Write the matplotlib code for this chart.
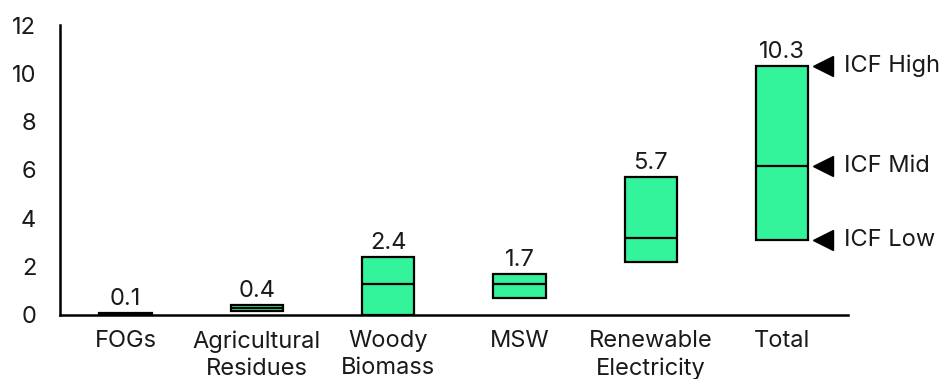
import matplotlib
matplotlib.use("Agg")
import matplotlib.pyplot as plt
import numpy as np

plt.rcParams['font.family'] = ['Inter', 'DejaVu Sans']

categories = ["FOGs", "Agricultural\nResidues", "Woody\nBiomass", "MSW",
              "Renewable\nElectricity", "Total"]
low = [0.0, 0.17, 0.0, 0.70, 2.2, 3.1]
mid = [0.05, 0.30, 1.3, 1.3, 3.2, 6.15]
high = [0.1, 0.4, 2.4, 1.7, 5.7, 10.3]
value_labels = ["0.1", "0.4", "2.4", "1.7", "5.7", "10.3"]
icf_labels = ["ICF High", "ICF Mid", "ICF Low"]

green = "#33F39B"
ink = "#1a1a1a"
fs = 17

fig = plt.figure(figsize=(9.43, 3.79), dpi=100)
ax = fig.add_axes([0.0636, 0.169, 0.8354, 0.765])

x = np.arange(len(categories))
width = 0.40
ax.bar(x, np.array(high) - np.array(low), bottom=low, width=width,
       color=green, edgecolor="black", linewidth=1.6, zorder=2)
ax.hlines(mid, x - width / 2, x + width / 2, colors="black",
          linewidth=1.6, zorder=3)

for xi, hi, lab in zip(x, high, value_labels):
    ax.text(xi, hi + 0.12, lab, ha="center", va="bottom",
            fontsize=fs, color=ink)

# Markers for the total range levels
t = len(categories) - 1
for yv, lab in zip([high[t], mid[t], low[t]], icf_labels):
    ax.plot(t + 0.31, yv, marker="<", markersize=15, color="black",
            clip_on=False, zorder=4)
    ax.text(t + 0.47, yv, lab, ha="left", va="center",
            fontsize=fs, color=ink, clip_on=False)

ax.set_xlim(-0.5, 5.5)
ax.set_ylim(0, 12)
ax.set_yticks(range(0, 13, 2))
ax.set_xticks(x)
ax.set_xticklabels(categories, fontsize=fs, color=ink, linespacing=1.3)
ax.tick_params(axis="y", labelsize=fs, labelcolor=ink, length=0, pad=17)
ax.tick_params(axis="x", length=0, pad=11)
for s in ["top", "right"]:
    ax.spines[s].set_visible(False)
for s in ["left", "bottom"]:
    ax.spines[s].set_linewidth(1.8)
    ax.spines[s].set_color("black")

fig.savefig("out.png", dpi=100)
